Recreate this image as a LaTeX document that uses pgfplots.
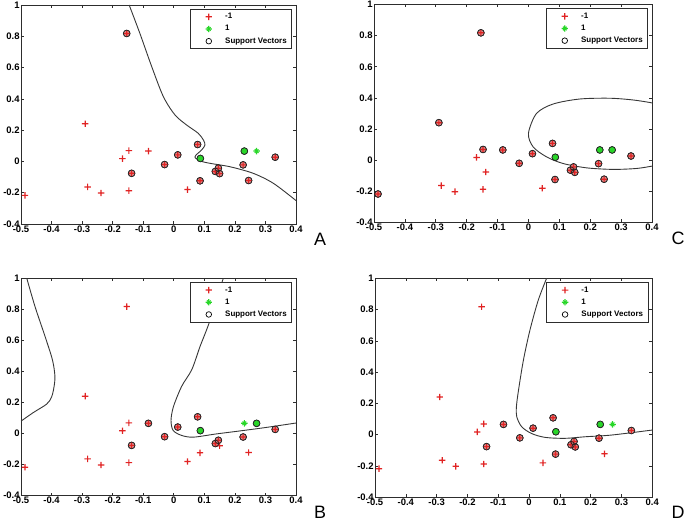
\documentclass[border=0pt]{standalone}
\usepackage{fontspec}
\setmainfont{Liberation Sans}
\usepackage{pgfplots}
\pgfplotsset{compat=1.18}
\usepackage{pgfplotstable}

\definecolor{negred}{RGB}{225,35,35}
\definecolor{posgreen}{RGB}{40,215,40}
\definecolor{svpink}{RGB}{218,135,135}
\definecolor{svgreen}{RGB}{55,195,55}
\definecolor{curvecol}{RGB}{55,55,55}
\definecolor{framecol}{RGB}{45,45,45}

% red plus mark, colour set inside the mark
\pgfdeclareplotmark{redplus}{%
  \pgfsetfillcolor{negred}%
  \pgfpathrectangle{\pgfpoint{-\pgfplotmarksize}{-0.6bp}}{\pgfpoint{2\pgfplotmarksize}{1.2bp}}%
  \pgfpathrectangle{\pgfpoint{-0.6bp}{-\pgfplotmarksize}}{\pgfpoint{1.2bp}{2\pgfplotmarksize}}%
  \pgfusepathqfill}
% green star mark, colour set inside the mark
\pgfdeclareplotmark{greenstar}{%
  \pgfsetfillcolor{posgreen}%
  \pgfpathrectangle{\pgfpoint{-\pgfplotmarksize}{-0.6bp}}{\pgfpoint{2\pgfplotmarksize}{1.2bp}}%
  \pgfpathrectangle{\pgfpoint{-0.6bp}{-\pgfplotmarksize}}{\pgfpoint{1.2bp}{2\pgfplotmarksize}}%
  \pgfusepathqfill
  \pgftransformrotate{45}%
  \pgfpathrectangle{\pgfpoint{-0.8\pgfplotmarksize}{-0.55bp}}{\pgfpoint{1.6\pgfplotmarksize}{1.1bp}}%
  \pgfpathrectangle{\pgfpoint{-0.55bp}{-0.8\pgfplotmarksize}}{\pgfpoint{1.1bp}{1.6\pgfplotmarksize}}%
  \pgfusepathqfill}

% class -1
\pgfplotstableread{
x y
-0.487 -0.217
-0.290 0.241
-0.282 -0.163
-0.238 -0.202
-0.168 0.018
-0.147 0.069
-0.147 -0.187
-0.154 0.818
-0.138 -0.076
-0.083 0.066
-0.030 -0.020
0.013 0.042
0.045 -0.180
0.078 0.108
0.086 -0.124
0.136 -0.064
0.146 -0.043
0.150 -0.078
0.227 -0.022
0.245 -0.122
0.332 0.027
}\negdata
% class 1
\pgfplotstableread{
x y
0.087 0.019
0.231 0.066
0.271 0.066
}\posdata

\pgfplotsset{
  svm/.style={
    scale only axis, anchor=south west,
    xmin=-0.5, xmax=0.4, ymin=-0.4, ymax=1,
    xtick={-0.5,-0.4,-0.3,-0.2,-0.1,0,0.1,0.2,0.3,0.4},
    ytick={-0.4,-0.2,0,0.2,0.4,0.6,0.8,1},
    tick align=inside, major tick length=3bp,
    axis line style={line width=0.8bp, framecol},
    every tick/.style={framecol, line width=0.6bp},
    /pgf/number format/assume math mode=true,
    tick label style={font=\fontsize{9.5}{11}\selectfont\bfseries, inner sep=1.2bp},
    legend style={at={(rel axis cs:0.986,0.982)}, anchor=north east,
      font=\fontsize{8}{9.5}\selectfont\bfseries, draw=framecol, line width=0.8bp,
      inner xsep=3bp, inner ysep=2bp, row sep=1.2bp},
    legend cell align=left,
    legend image code/.code={\path (0bp,0bp) (29bp,0bp);
      \draw[##1] plot coordinates {(15bp,0bp)};},
  },
  negpl/.style={only marks, mark=redplus, mark size=3.2bp, negred,
    mark options={fill=negred, draw=none}},
  pospl/.style={only marks, mark=greenstar, mark size=3.2bp, posgreen,
    mark options={fill=posgreen, draw=none}},
  svfillneg/.style={only marks, mark=*, mark size=3.4bp, mark options={fill=svpink, draw=none}, forget plot},
  svfillpos/.style={only marks, mark=*, mark size=3.4bp, mark options={fill=svgreen, draw=none}, forget plot},
  svring/.style={only marks, mark=o, mark size=3.4bp, mark options={draw=black!85, line width=0.7bp}, forget plot},
  bound/.style={curvecol, line width=0.9bp, smooth, tension=0.5, forget plot},
}

\newcommand{\basepoints}{%
  \addplot[negpl] table {\negdata};
  \addplot[pospl] table {\posdata};
  \addlegendimage{only marks, mark=o, mark size=2.8bp, black, mark options={draw=black, line width=0.7bp}}
}

\begin{document}
\begin{tikzpicture}
\useasboundingbox (0bp,0bp) rectangle (685bp,521bp);

% ---------------- A ----------------
\begin{axis}[svm, at={(21bp,297bp)}, width=275bp, height=219bp,
  legend entries={-1,1,Support Vectors}]
\addplot[svfillneg] coordinates {
(-0.154,0.818) (-0.138,-0.076) (-0.030,-0.020) (0.013,0.042) (0.078,0.108)
(0.086,-0.124) (0.136,-0.064) (0.146,-0.043) (0.150,-0.078) (0.227,-0.022)
(0.245,-0.122) (0.332,0.027)};
\addplot[svfillpos] coordinates {(0.087,0.019) (0.231,0.066)};
\basepoints
\addplot[bound] coordinates {
(-0.146,1.0) (-0.111,0.819) (-0.072,0.605) (-0.034,0.414) (0.004,0.297)
(0.042,0.233) (0.080,0.180) (0.097,0.137) (0.102,0.105) (0.091,0.073)
(0.073,0.041) (0.070,0.024) (0.086,0.003) (0.118,-0.012) (0.184,-0.034)
(0.260,-0.076) (0.326,-0.140) (0.400,-0.250)};
\addplot[svring] coordinates {
(-0.154,0.818) (-0.138,-0.076) (-0.030,-0.020) (0.013,0.042) (0.078,0.108)
(0.086,-0.124) (0.136,-0.064) (0.146,-0.043) (0.150,-0.078) (0.227,-0.022)
(0.245,-0.122) (0.332,0.027) (0.087,0.019) (0.231,0.066)};
\end{axis}

% ---------------- C ----------------
\begin{axis}[svm, at={(374bp,298.5bp)}, width=278bp, height=218bp,
  legend entries={-1,1,Support Vectors}]
\addplot[svfillneg] coordinates {
(-0.487,-0.217) (-0.290,0.241) (-0.147,0.069) (-0.154,0.818) (-0.083,0.066)
(-0.030,-0.020) (0.013,0.042) (0.078,0.108) (0.086,-0.124) (0.136,-0.064)
(0.146,-0.043) (0.150,-0.078) (0.227,-0.022) (0.245,-0.122) (0.332,0.027)};
\addplot[svfillpos] coordinates {(0.087,0.019) (0.231,0.066) (0.271,0.066)};
\basepoints
\addplot[bound] coordinates {
(0.42,0.355) (0.400,0.368) (0.338,0.387) (0.263,0.398) (0.166,0.393) (0.080,0.361)
(0.026,0.300) (0.000,0.172) (0.015,0.086) (0.058,0.022) (0.112,-0.021)
(0.188,-0.049) (0.274,-0.059) (0.350,-0.053) (0.400,-0.038) (0.42,-0.03)};
\addplot[svring] coordinates {
(-0.487,-0.217) (-0.290,0.241) (-0.147,0.069) (-0.154,0.818) (-0.083,0.066)
(-0.030,-0.020) (0.013,0.042) (0.078,0.108) (0.086,-0.124) (0.136,-0.064)
(0.146,-0.043) (0.150,-0.078) (0.227,-0.022) (0.245,-0.122) (0.332,0.027)
(0.087,0.019) (0.231,0.066) (0.271,0.066)};
\end{axis}

% ---------------- B ----------------
\begin{axis}[svm, at={(21bp,25.3bp)}, width=275bp, height=217.4bp,
  legend entries={-1,1,Support Vectors}]
\addplot[svfillneg] coordinates {
(-0.138,-0.076) (-0.083,0.066) (-0.030,-0.020) (0.013,0.042) (0.078,0.108)
(0.136,-0.064) (0.146,-0.043) (0.227,-0.022) (0.332,0.027)};
\addplot[svfillpos] coordinates {(0.087,0.019) (0.271,0.066)};
\basepoints
\addplot[bound] coordinates {
(-0.481,1.0) (-0.454,0.817) (-0.421,0.624) (-0.397,0.474) (-0.389,0.370)
(-0.392,0.300) (-0.400,0.235) (-0.416,0.190) (-0.460,0.135) (-0.500,0.080)};
\addplot[bound] coordinates {
(0.162,1.0) (0.117,0.720) (0.086,0.561) (0.059,0.412) (0.026,0.305)
(-0.001,0.174) (-0.009,0.085) (-0.002,0.020) (0.026,-0.012) (0.064,-0.023)
(0.140,-0.002) (0.228,0.020) (0.304,0.040) (0.400,0.068)};
\addplot[svring] coordinates {
(-0.138,-0.076) (-0.083,0.066) (-0.030,-0.020) (0.013,0.042) (0.078,0.108)
(0.136,-0.064) (0.146,-0.043) (0.227,-0.022) (0.332,0.027)
(0.087,0.019) (0.271,0.066)};
\end{axis}

% ---------------- D ----------------
\begin{axis}[svm, at={(375bp,23.7bp)}, width=277.3bp, height=219bp,
  legend entries={-1,1,Support Vectors}]
\addplot[svfillneg] coordinates {
(-0.138,-0.076) (-0.083,0.066) (-0.030,-0.020) (0.013,0.042) (0.078,0.108)
(0.086,-0.124) (0.136,-0.064) (0.146,-0.043) (0.150,-0.078) (0.227,-0.022)
(0.332,0.027)};
\addplot[svfillpos] coordinates {(0.087,0.019) (0.231,0.066)};
\basepoints
\addplot[bound] coordinates {
(0.057,1.0) (0.030,0.861) (0.003,0.670) (-0.018,0.480) (-0.034,0.288)
(-0.041,0.180) (-0.040,0.115) (-0.024,0.051) (0.008,0.008) (0.052,-0.017)
(0.117,-0.023) (0.182,-0.013) (0.268,-0.002) (0.400,0.030)};
\addplot[svring] coordinates {
(-0.138,-0.076) (-0.083,0.066) (-0.030,-0.020) (0.013,0.042) (0.078,0.108)
(0.086,-0.124) (0.136,-0.064) (0.146,-0.043) (0.150,-0.078) (0.227,-0.022)
(0.332,0.027) (0.087,0.019) (0.231,0.066)};
\end{axis}

\node[anchor=base, font=\fontsize{18}{20}\selectfont] at (320bp,275.3bp) {A};
\node[anchor=base, font=\fontsize{18}{20}\selectfont] at (678bp,276bp) {C};
\node[anchor=base, font=\fontsize{18}{20}\selectfont] at (320bp,3bp) {B};
\node[anchor=base, font=\fontsize{18}{20}\selectfont] at (678bp,3bp) {D};
\end{tikzpicture}
\end{document}
